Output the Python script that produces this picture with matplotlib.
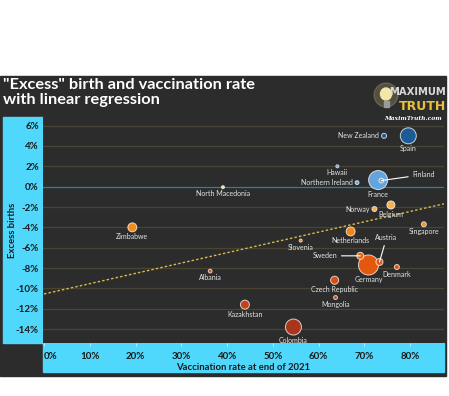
import numpy as np
import matplotlib
matplotlib.use("Agg")
import matplotlib.pyplot as plt
from matplotlib.colors import LinearSegmentedColormap, Normalize
from matplotlib.patches import Rectangle, Ellipse

# ======================
# DATA
# ======================
countries = ["New Zealand", "Spain", "Hawaii", "Northern Ireland", "France", "Finland",
             "North Macedonia", "Norway", "Belgium", "Zimbabwe", "Singapore", "Netherlands",
             "Slovenia", "Sweden", "Germany", "Austria", "Denmark", "Albania",
             "Czech Republic", "Mongolia", "Kazakhstan", "Colombia"]
vax_rate = [74.3, 79.6, 64.1, 68.4, 73.0, 73.7,
            39.1, 72.2, 75.8, 19.3, 83.0, 67.0,
            56.1, 69.1, 70.9, 73.3, 77.1, 36.3,
            63.5, 63.7, 43.9, 54.5]
excess_births = [5.0, 5.0, 2.0, 0.4, 0.65, 0.6,
                 -0.05, -2.2, -1.8, -4.0, -3.7, -4.4,
                 -5.3, -6.8, -7.7, -7.4, -7.9, -8.3,
                 -9.2, -10.9, -11.6, -13.8]
# relative bubble weight (births, thousands)
births_k = [50, 510, 18, 30, 720, 45,
            18, 50, 130, 160, 50, 160,
            18, 100, 800, 100, 50, 28,
            130, 30, 160, 510]

reg_intercept = -10.55
reg_slope = 0.1014

x_ticks = [0, 10, 20, 30, 40, 50, 60, 70, 80]
y_ticks = [-14, -12, -10, -8, -6, -4, -2, 0, 2, 4, 6]

# label placement: (mode, dx px, dy px)
label_place = {
    "New Zealand": ("left", 0, 0), "Northern Ireland": ("left", 0, 0), "Norway": ("left", 0, 0),
    "Finland": ("line", 31, 6), "Sweden": ("line", -23, 0), "Austria": ("line", 7, 24),
}

# ======================
# STYLE
# ======================
DARK = "#2c2c2c"
CYAN = "#4fd8fb"
GRID = "#4a4533"
LABEL = "#e4e4e4"
W, H = 449, 396

def fx(px):
    return px / W

def fy(py):
    return 1 - py / H

cmap = LinearSegmentedColormap.from_list("excess", [
    (0.00, "#a8341c"), (0.13, "#c4421a"), (0.32, "#e2560c"), (0.53, "#f38d1c"),
    (0.63, "#f6ae4a"), (0.736, "#f4d68a"), (0.74, "#68a9df"), (0.84, "#5b9bd5"),
    (1.00, "#1b5c97")])
norm = Normalize(vmin=-14, vmax=5)

fig = plt.figure(figsize=(W / 100, H / 100), dpi=100)
fig.patch.set_facecolor("white")

# dark panel and cyan strips
fig.patches.append(Rectangle((0, fy(376)), fx(446), fy(76) - fy(376),
                             transform=fig.transFigure, color=DARK, zorder=-3))
fig.patches.append(Rectangle((fx(3), fy(343)), fx(43) - fx(3), fy(117) - fy(343),
                             transform=fig.transFigure, color=CYAN, zorder=-2))
fig.patches.append(Rectangle((fx(43), fy(372)), fx(444) - fx(43), fy(343) - fy(372),
                             transform=fig.transFigure, color=CYAN, zorder=-2))

ax = fig.add_axes([fx(43), fy(343), fx(444) - fx(43), fy(117) - fy(343)])
ax.set_zorder(1)
ax.set_facecolor(DARK)
for s in ax.spines.values():
    s.set_visible(False)

ax.set_xlim(-0.22, 87.4)
ax.set_ylim(-15.37, 6.85)

for yv in y_ticks:
    ax.axhline(yv, color="#1e8a8c" if yv == 0 else GRID, lw=0.9, zorder=1)

# regression line
xr = np.array([0, 87.4])
ax.plot(xr, reg_intercept + reg_slope * xr, color="#d9b947", lw=1.0,
        dashes=(1.8, 1.5), zorder=2)

# bubbles
order = np.argsort(births_k)[::-1]
xv = np.array(vax_rate)[order]
yv_ = np.array(excess_births)[order]
bk = np.array(births_k)[order]
ax.scatter(xv, yv_, s=bk * 0.26, c=cmap(norm(yv_)), edgecolors=(1, 1, 1, 0.75),
           linewidths=0.7, zorder=3)

# labels
for name, x, y, b in zip(countries, vax_rate, excess_births, births_k):
    r = np.sqrt(b / 8.0)
    mode, dx, dy = label_place.get(name, ("below", 0, 0))
    kw = dict(fontsize=5, color=LABEL, family=["Lato", "DejaVu Sans"],
              textcoords="offset pixels", zorder=4)
    if mode == "below":
        ax.annotate(name, (x, y), xytext=(0, -(r + 1.5)), ha="center", va="top", **kw)
    elif mode == "left":
        ax.annotate(name, (x, y), xytext=(-(r + 2.5), 0), ha="right", va="center", **kw)
    else:
        ha = "left" if dx > 10 else ("right" if dx < 0 else "center")
        ax.annotate(name, (x, y), xytext=(dx, dy), ha=ha, va="center",
                    arrowprops=dict(arrowstyle="-", color="white", lw=0.8,
                                    shrinkA=1, shrinkB=0), **kw)

# ticks
ax.set_xticks(x_ticks)
ax.set_xticklabels([f"{t}%" for t in x_ticks])
ax.set_yticks(y_ticks)
ax.set_yticklabels([f"{t}%" for t in y_ticks])
ax.tick_params(axis="y", length=0, pad=3, labelsize=7, labelcolor="#1a1a1a")
ax.tick_params(axis="x", length=2, width=0.6, color="#cfefff", pad=4.5,
               labelsize=7, labelcolor="#1a1a1a")
for lab in ax.get_xticklabels() + ax.get_yticklabels():
    lab.set_fontweight("bold")
    lab.set_family(["Lato", "DejaVu Sans"])
ax.get_xticklabels()[0].set_ha("left")

ax.set_xlabel("Vaccination rate at end of 2021", fontsize=6.8, fontweight="bold",
              color="#1a1a1a", family=["Lato", "DejaVu Sans"])
ax.set_ylabel("Excess births", fontsize=6.8, fontweight="bold", color="#1a1a1a",
              family=["Lato", "DejaVu Sans"])
ax.xaxis.label.set_va("center")
ax.yaxis.label.set_va("center")
ax.xaxis.set_label_coords(0.5, -0.1106)
ax.yaxis.set_label_coords(-0.0773, 0.5)

# title
fig.text(fx(3), fy(78), "\"Excess\" birth and vaccination rate\nwith linear regression",
         ha="left", va="top", fontsize=11.8, fontweight="bold", color="white",
         family=["Lato", "DejaVu Sans"], linespacing=1.1)

# logo
fig.patches.append(Ellipse((fx(386), fy(95)), 24 / W, 24 / H, transform=fig.transFigure,
                           color="#f3e39b", alpha=0.2, zorder=2))
fig.patches.append(Ellipse((fx(386), fy(94)), 11 / W, 12 / H, transform=fig.transFigure,
                           color="#f2e6a8", zorder=2))
fig.patches.append(Rectangle((fx(383.5), fy(107)), 5 / W, 6 / H, transform=fig.transFigure,
                             color="#9a9a9a", zorder=2))
fig.text(fx(446), fy(92), "MAXIMUM", ha="right", va="center", fontsize=7.2,
         fontweight="bold", color="#d9d9d9", family=["Liberation Sans Narrow", "DejaVu Sans"])
fig.text(fx(446), fy(106), "TRUTH", ha="right", va="center", fontsize=9,
         fontweight="bold", color="#e8c13a", family=["Liberation Sans Narrow", "DejaVu Sans"])
fig.text(fx(413), fy(119), "MaximTruth.com", ha="center", va="center", fontsize=4.3,
         fontstyle="italic", fontweight="bold", color="white", family=["DejaVu Serif"])

fig.savefig("out.png", dpi=100, facecolor="white")
